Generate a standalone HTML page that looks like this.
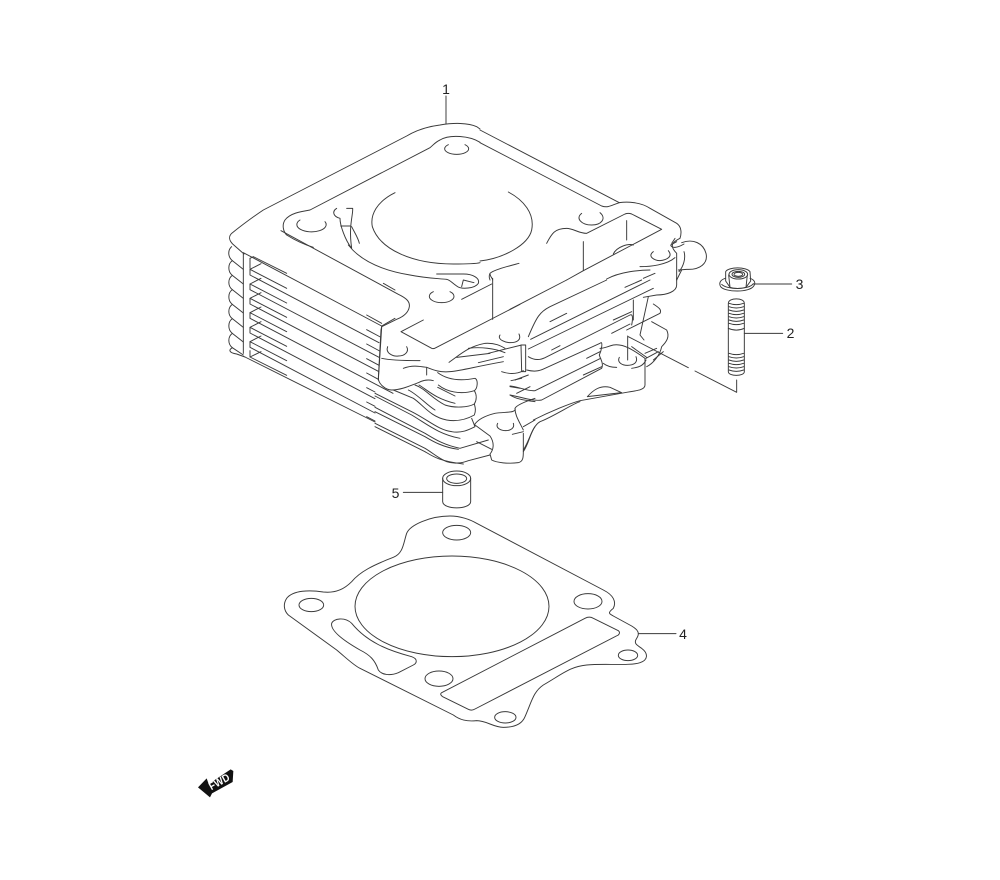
<!DOCTYPE html>
<html><head><meta charset="utf-8"><style>
html,body{margin:0;padding:0;background:#fff}
svg{display:block}
.l{stroke:#3a3a3a;stroke-width:2.9;stroke-linecap:round;stroke-linejoin:round;fill:none}
text{font-family:"Liberation Sans",sans-serif;font-size:14px;fill:#222;text-anchor:middle}
</style></head><body>
<svg width="1000" height="880" viewBox="0 0 1000 880" xmlns="http://www.w3.org/2000/svg">
<rect width="1000" height="880" fill="#fff"/>

<!-- top-left plate -->
<g class="l" transform="translate(220,110) scale(.33333)">
<path d="M678 -42V42"/>
<path d="M780 57L770 50C745 38 700 38 660 45C620 50 590 60 560 78L130 300C100 320 60 350 35 370C25 380 28 392 38 402L72 432"/>
<path d="M780 97C750 78 690 72 660 90C645 97 640 105 630 113L270 300C240 305 210 310 195 330C185 345 190 365 200 375Q240 400 280 412"/>
<path d="M183 362L535 553C560 565 570 575 568 590C565 610 545 622 530 628L485 650L483 660"/>
<path d="M490 520L525 540"/>
<path d="M685 104A36 17 0 1 0 735 104"/>
<path d="M315 335A44 22 0 1 1 240 330"/>
<path d="M525 248C470 275 450 315 457 350C480 420 580 462 700 462C715 462 765 462 780 458"/>
<path d="M350 295C335 305 340 320 360 325C360 345 375 390 395 415M380 295H398C400 315 385 345 395 415M362 348H390M395 350C405 370 415 385 418 400"/>
<path d="M385 405C420 450 480 480 570 495C620 505 650 505 680 508C690 510 695 518 710 528C725 540 765 535 775 520C780 505 760 492 730 492H650"/>
<path d="M725 530L730 510L762 518"/>
<path d="M725 568L815 522M818 505V628M810 510C806 500 808 495 810 490"/>
<path d="M690 545A37 19 0 1 1 640 545"/>
<path d="M610 630L543 665L635 715Q640 718 650 712L900 583"/>
</g>

<!-- fins (A) -->
<g class="l" transform="translate(225,240) scale(.33333)">
<path d="M20 20C8 30 8 50 22 62C8 72 8 95 22 106C8 116 8 138 22 149C8 159 8 182 22 193C8 203 8 225 22 236C8 246 8 269 22 280C8 290 8 312 22 323C10 330 12 338 35 342L60 351"/>
<path d="M22 62L55 88M22 106L55 132M22 149L55 175M22 193L55 219M22 236L55 262M22 280L55 306M22 323L55 345"/>
<path d="M55 42V340"/>
<path d="M55 38L470 258V262L460 420M470 258L510 235"/>
<path d="M75 55V85M75 55L85 50L185 100"/>
<path d="M75 88V105L462 308M75 88L185 145M75 88L108 71"/>
<path d="M75 132V149L462 352M75 132L185 189M75 132L108 115"/>
<path d="M75 175V192L460 394M75 175L185 232M75 175L108 158"/>
<path d="M75 218V235L504 460M75 218L185 275M75 218L108 201"/>
<path d="M75 262V279L450 476M75 262L185 319M75 262L108 245"/>
<path d="M75 305V322L450 519M75 305L185 362M75 305L108 288"/>
<path d="M75 332V351L185 406M75 351L108 335M60 351L450 546"/>
<path d="M425 225L470 250M425 269L466 291M425 312L464 333M425 356L462 376M425 399L460 418"/>
<path d="M425 443L450 456M425 486L450 499M425 530L450 543"/>
</g>

<!-- block & folds (B) -->
<g class="l" transform="translate(375,330) scale(.33333)">
<path d="M38 50C30 70 55 80 70 78C90 78 103 65 95 50"/>
<path d="M18 0L10 145C10 160 30 180 50 180C80 180 110 165 130 158C145 150 160 148 175 152"/>
<path d="M20 85C40 90 70 92 135 92"/>
<path d="M85 115C110 105 130 108 155 112C175 120 195 128 225 125C260 122 300 110 385 95"/>
<path d="M155 112V135"/>
<path d="M222 97C260 70 280 50 330 40C360 38 378 48 390 55"/>
<path d="M280 55C315 50 360 55 390 68M310 98L385 80M245 82L345 70"/>
<path d="M188 128C215 148 250 155 300 145C310 150 308 175 298 182"/>
<path d="M190 165C215 185 255 195 298 182C306 195 305 210 298 222"/>
<path d="M188 172L240 198"/>
<path d="M120 165C150 175 170 205 210 225C240 235 280 232 298 222"/>
<path d="M132 165C160 182 180 205 240 220"/>
<path d="M55 180L115 205C145 225 165 260 215 270C245 275 275 268 298 255C304 240 300 230 298 222"/>
<path d="M100 180C130 195 155 225 180 240"/>
<path d="M0 190L110 245C160 270 190 300 230 305C260 310 280 300 300 290L290 265"/>
<path d="M0 198L110 255C160 285 190 312 255 325"/>
<path d="M0 232L150 310C175 325 205 345 255 355L340 330"/>
<path d="M0 245L150 320C175 335 205 352 250 358"/>
<path d="M0 280L150 355C175 370 190 385 215 395C235 402 260 400 280 392L345 375"/>
<path d="M0 290L150 365C175 380 190 392 265 402"/>
<path d="M300 285L345 318C360 340 355 360 345 372L350 390C365 398 400 402 430 398C445 395 445 380 445 365V310"/>
<path d="M305 335L350 358"/>
<path d="M298 285C310 265 340 255 360 250C390 245 425 250 420 235C425 225 450 215 480 205"/>
<path d="M375 15C365 30 395 38 405 38C425 38 440 30 432 12"/>
<path d="M368 280C360 295 380 302 392 302C405 302 420 295 415 280"/>
<path d="M420 235C420 255 430 270 445 300M412 313L445 305"/>
<path d="M445 365C462 340 465 310 480 290M445 290L480 270"/>
<path d="M380 125C410 135 430 130 445 122"/>
<path d="M408 152L440 145M405 170L435 175M405 195C420 205 440 210 480 215"/>
<path d="M340 70L440 45"/>
</g>

<!-- right fins (C) -->
<g class="l" transform="translate(510,280) scale(.33333)">
<path d="M0 88L170 0"/>
<path d="M55 170C80 110 90 95 120 80L290 0"/>
<path d="M62 178L420 0M120 125L170 100M345 22L395 0"/>
<path d="M55 207L430 25M310 120L365 95"/>
<path d="M55 230C75 242 90 240 105 233L360 105C370 100 368 120 365 135M305 160L360 132M125 210L150 197"/>
<path d="M50 270C70 275 85 275 105 265L270 190C280 180 275 210 268 225M230 235L270 215M220 285L275 260"/>
<path d="M33 195H47V275H35Z"/>
<path d="M15 300L55 285M20 340L60 320M0 318C25 320 55 335 75 332L272 235"/>
<path d="M0 345C30 350 70 365 95 360L275 265C282 250 270 235 268 225"/>
<path d="M270 205C285 205 290 200 310 195C340 190 370 210 405 235V315C405 330 380 332 350 337L210 362C180 370 120 395 70 420"/>
<path d="M232 350C250 330 270 315 300 322L335 338Z"/>
<path d="M328 232C320 248 338 256 352 256C370 256 385 248 378 230"/>
<path d="M353 168V240"/>
<path d="M355 170L535 263"/>
<path d="M365 200L410 232"/>
<path d="M280 250C290 258 305 262 320 262M365 265C385 262 400 258 408 240"/>
<path d="M350 150L450 100C455 90 450 85 430 72"/>
<path d="M425 125L470 150C480 170 470 185 455 200C450 225 430 250 410 260"/>
<path d="M405 220L440 205M408 235L445 215M430 240L460 215"/>
<path d="M370 60V120M415 50L390 165L402 180"/>
</g>

<!-- top right (E) -->
<g class="l" transform="translate(480,130) scale(.33333)">
<path d="M0 0L418 218C440 215 480 215 510 235L590 280C605 290 605 310 600 325C580 335 565 345 590 370V450"/>
<path d="M0 38L365 228C385 235 395 225 418 218"/>
<path d="M85 186C130 210 165 250 155 300C145 345 70 385 0 393"/>
<path d="M305 250C285 265 305 285 335 285C365 285 380 265 360 248"/>
<path d="M200 340C215 310 225 295 260 295C280 295 295 310 320 310L435 252Q445 248 455 252L545 298L310 422L260 450"/>
<path d="M440 272V330M310 335V422"/>
<path d="M400 372C410 350 445 340 460 345"/>
<path d="M520 365C500 380 525 392 540 392C560 390 580 380 565 362"/>
<path d="M480 410C510 410 560 405 585 383"/>
<path d="M380 447C420 425 480 420 510 420M490 445L525 430"/>
<path d="M30 430C40 420 80 410 117 400M30 430C30 440 38 445 38 450"/>
<path d="M605 338C640 325 670 340 678 370C685 400 660 420 620 418L595 420"/>
<path d="M590 335L572 345C575 355 590 355 612 342M585 325L575 340"/>
<path d="M612 365C618 385 610 410 597 425"/>
</g>

<!-- misc right -->
<g class="l" transform="translate(480,190) scale(.33333)">
<path d="M590 265V285C590 305 560 315 530 315L490 322"/>
<path d="M605 240L590 270"/>
<path d="M130 780C150 750 155 710 180 695C220 680 280 640 300 635"/>
<path d="M645 543L770 607V570"/>
<path d="M820 282H935"/>
<path d="M745 340C745 322 793 322 793 340V545C793 560 745 560 745 545Z"/>
<path d="M747 350Q769 358 791 350M747 360Q769 368 791 360M747 370Q769 378 791 370M747 380Q769 388 791 380M747 390Q769 398 791 390M747 400Q769 408 791 400M747 340Q769 348 791 340M745 415Q769 426 793 415"/>
<path d="M747 490Q769 498 791 490M747 500Q769 508 791 500M747 510Q769 518 791 510M747 520Q769 528 791 520M747 530Q769 538 791 530M747 540Q769 548 791 540"/>
<path d="M793 430H908"/>
</g>

<!-- nut (D) -->
<g class="l" transform="translate(710,255) scale(.33333)">
<path d="M46 70C30 75 26 85 32 95C45 112 120 114 132 92C138 82 132 74 120 70"/>
<path d="M35 88C50 104 115 106 130 86"/>
<path d="M47 78V50C55 35 110 35 120 50L122 78L108 97C90 102 75 102 60 97Z"/>
<path d="M60 97L56 60M108 97L112 60"/>
<ellipse cx="85" cy="58" rx="28" ry="14"/>
<ellipse cx="85" cy="58" rx="19" ry="9"/>
<ellipse cx="85" cy="58" rx="13" ry="6"/>
</g>

<!-- bushing -->
<g class="l" transform="translate(220,300) scale(.33333)">
<ellipse cx="710" cy="535" rx="42" ry="22"/>
<ellipse cx="710" cy="536" rx="30" ry="14"/>
<path d="M668 535V605C670 630 750 630 752 605V535"/>
<path d="M550 577H668"/>
</g>

<!-- gasket -->
<g class="l" transform="translate(270,510) scale(.33333)">
<path d="M540 18C570 18 600 28 620 40L1000 240C1030 255 1040 275 1030 295C1010 310 1020 312 1030 318L1085 348C1105 360 1110 370 1100 385C1090 400 1100 405 1115 415C1135 430 1135 450 1110 458C1080 468 1000 460 950 465C900 470 880 490 820 525C790 545 785 575 765 620C755 645 730 652 700 652C670 652 650 632 620 632C590 635 570 630 550 615L270 475C250 465 230 445 200 420L55 315C40 300 40 280 50 265C70 240 120 240 160 246C200 250 225 235 245 215C270 185 310 165 370 142C400 130 400 100 410 70C420 45 480 18 540 18Z"/>
<ellipse cx="546" cy="289" rx="291" ry="151"/>
<ellipse cx="560" cy="68" rx="42" ry="22"/>
<ellipse cx="124" cy="285" rx="37" ry="20"/>
<ellipse cx="954" cy="274" rx="42" ry="23"/>
<ellipse cx="1074" cy="436" rx="29" ry="16"/>
<ellipse cx="507" cy="506" rx="42" ry="23"/>
<ellipse cx="706" cy="622" rx="32" ry="17"/>
<path d="M515 548L945 325Q958 318 970 325L1045 362Q1052 368 1045 375L615 597Q605 603 595 598L518 560Q508 553 515 548Z"/>
<path d="M185 340C190 325 225 320 245 340C290 395 350 420 425 440C445 447 440 460 430 465L385 488C360 498 335 495 325 480C315 450 300 435 270 420C235 400 180 365 185 340Z"/>
<path d="M1105 371H1218"/>
</g>

<!-- FWD -->
<g transform="translate(190,760) scale(.33333)">
<path d="M24 82L50 55L56 72L122 28L130 33L128 66L66 100L60 112Z" fill="#111"/>
</g>
<text transform="translate(221,785) rotate(-29)" textLength="22" lengthAdjust="spacingAndGlyphs" style="font-size:11px;font-weight:bold;fill:#fff">FWD</text>

<text x="446" y="94">1</text>
<text x="790.5" y="338">2</text>
<text x="799.5" y="289">3</text>
<text x="683" y="639">4</text>
<text x="395.5" y="498">5</text>
</svg>
</body></html>
